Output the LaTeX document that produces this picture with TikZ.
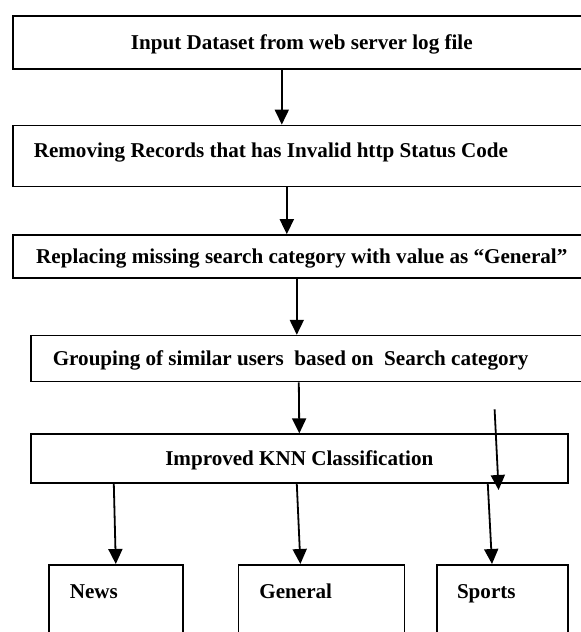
\documentclass[tikz,border=0pt]{standalone}
\usepackage{fontspec}
\setmainfont{Liberation Serif}
\usetikzlibrary{arrows.meta,positioning}

\begin{document}
\begin{tikzpicture}[x=1pt, y=-1pt,
          box/.style={draw, line width=1.6pt, inner sep=0pt,
                      font=\fontsize{21.1}{25}\selectfont\bfseries,
                      text height=16pt, text depth=2pt},
          step1/.style={box, minimum width=578pt},
          leftbox/.style={box, align=flush left, inner xsep=#1},
          cls/.style={box, align=flush left, inner xsep=21pt, text width=#1,
                      text height=34pt, text depth=70pt},
          arr/.style={-{Triangle[length=15pt,width=14pt]}, line width=1.8pt}
        ]
          \path[use as bounding box, clip] (0,0) rectangle (581,632);
          \node[step1, minimum height=53pt, anchor=north west] (input) at (12,15)
            {Input Dataset from web server log file};
          \node[leftbox=21pt, text width=536pt, minimum height=61pt,
                text height=16pt, text depth=12pt,
                below=55pt of input.south west, anchor=north west] (remove)
            {Removing Records that has Invalid http Status Code};
          \node[step1, minimum height=43pt,
                below=47pt of remove.south west, anchor=north west] (replace)
            {Replacing missing search category with value as “General”};
          \node[leftbox=22pt, text width=516pt, minimum height=46pt,
                below=56pt of replace.south west, anchor=north west, xshift=18pt] (group)
            {Grouping of similar users~ based on~ Search category};
          \node[box, minimum width=537pt, minimum height=49pt,
                below=51pt of group.south west, anchor=north west] (knn)
            {Improved KNN Classification};
          % classes
          \node[cls=92pt, below=80pt of knn.south west, anchor=north west, xshift=18pt] (news) {News};
          \node[cls=124pt, right=54pt of news.north east, anchor=north west] (general) {General};
          \node[cls=91pt, inner xsep=20pt, right=31pt of general.north east, anchor=north west] (sports) {Sports};
          \draw[arr] ([xshift=-20pt]input.south) -- ([xshift=-20pt]remove.north);
          \draw[arr] ([xshift=-15pt]remove.south) -- ([xshift=-15pt]replace.north);
          \draw[arr] ([xshift=-5pt]replace.south) -- ([xshift=-14pt]group.north);
          \draw[arr] ([xshift=-12pt]group.south) -- (knn.north);
          \coordinate (straytop) at ([xshift=-74pt,yshift=24pt]knn.north east);
          \coordinate (straytip) at ([xshift=-70pt,yshift=-6pt]knn.south east);
          \draw[arr] (straytop) -- (straytip);
          \draw[arr] ([xshift=-185.5pt]knn.south) -- (news.north);
          \draw[arr] ([xshift=-2.5pt]knn.south) -- ([xshift=-21pt]general.north);
          \draw[arr] ([xshift=188.5pt]knn.south) -- ([xshift=-10.5pt]sports.north);
        \end{tikzpicture}
\end{document}
